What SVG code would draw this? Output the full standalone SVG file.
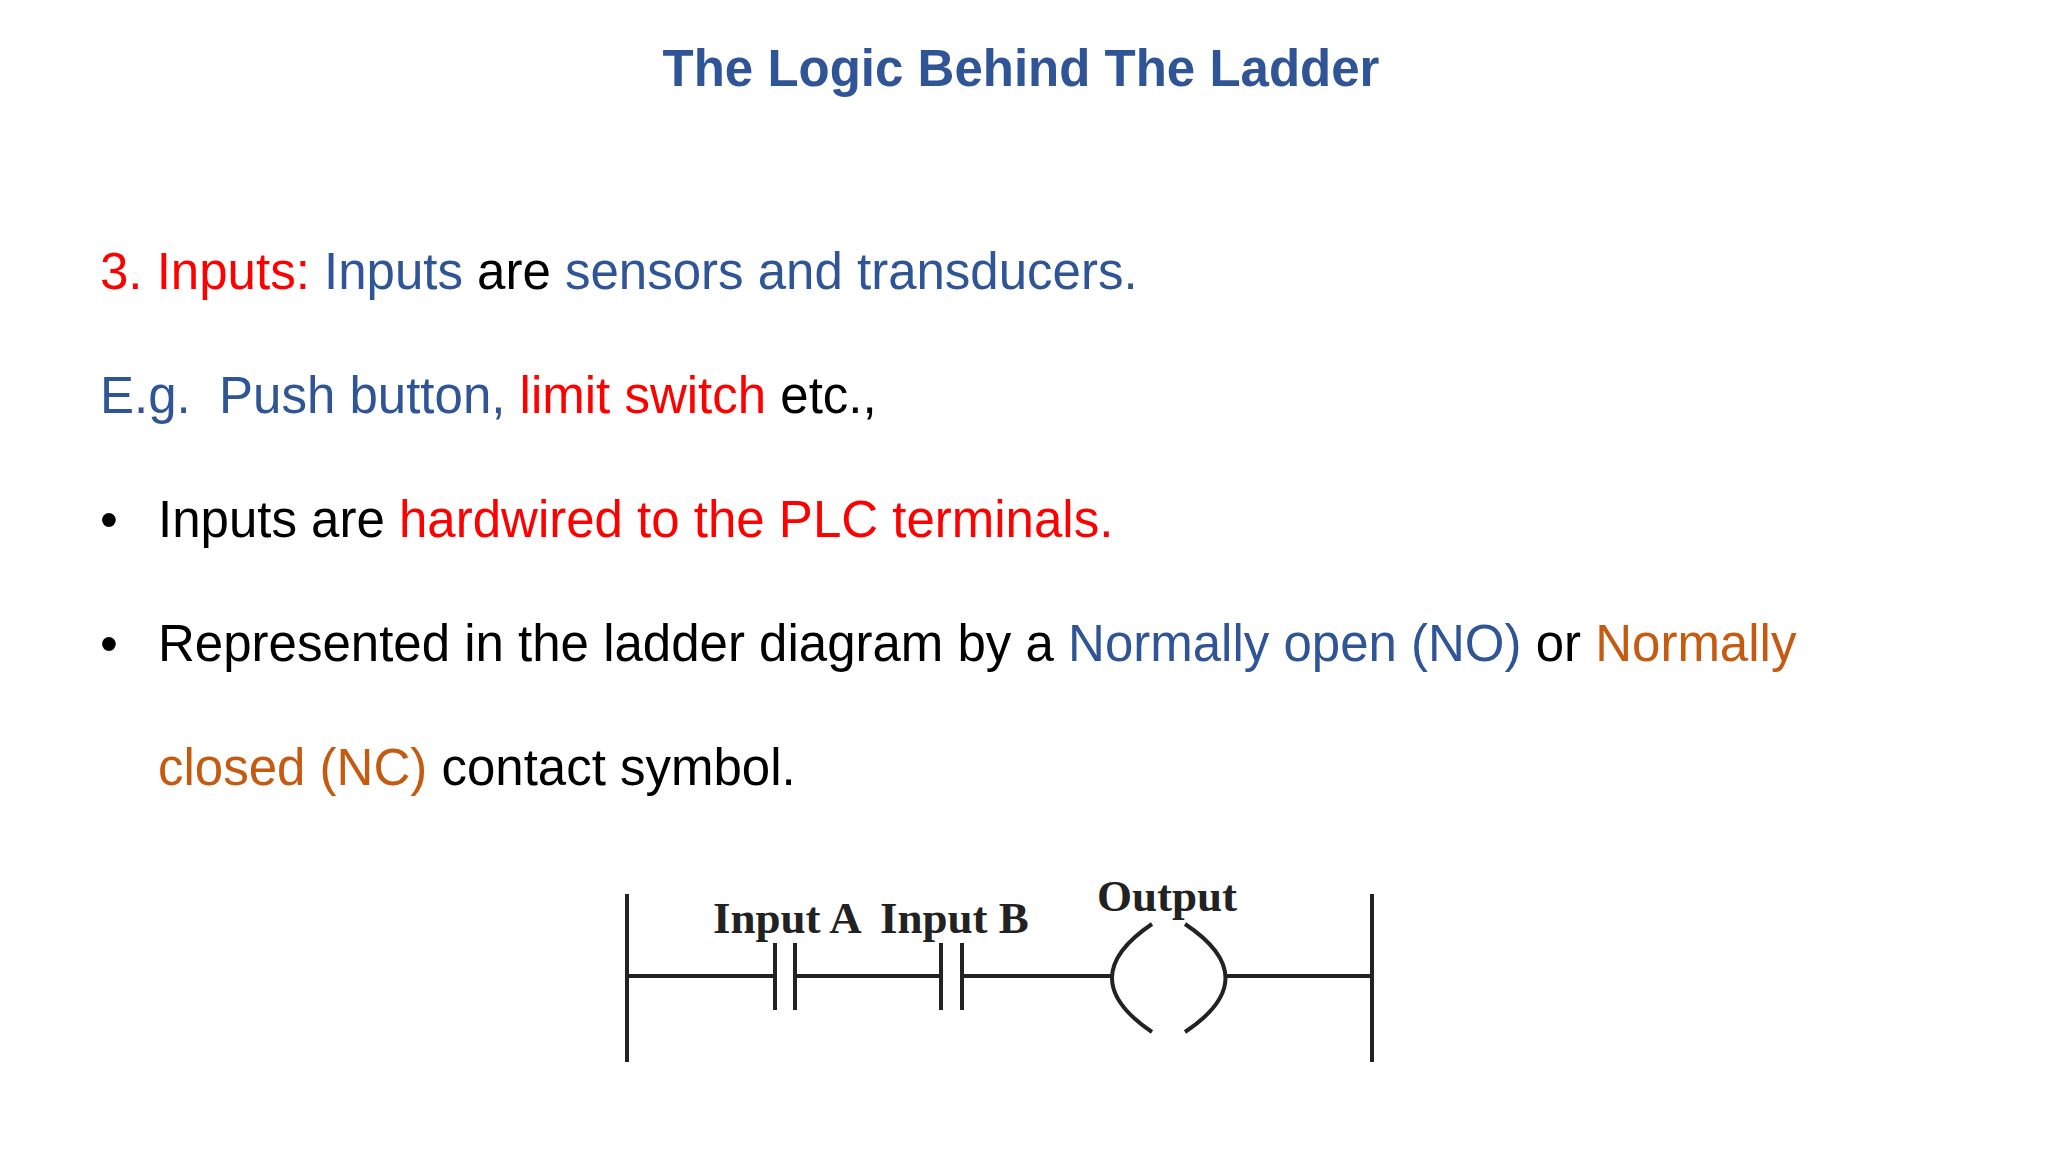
<svg xmlns="http://www.w3.org/2000/svg" width="2048" height="1152" viewBox="0 0 2048 1152">
<style>
.t{font-family:"Liberation Sans",Arial,sans-serif;font-size:51px;fill:#000;white-space:pre}
.b{fill:#2F5597}.r{fill:#FF0000}.o{fill:#C55A11}
.s{font-family:"Liberation Serif","Times New Roman",serif;font-size:45px;font-weight:bold;fill:#222}
.w{stroke:#222;stroke-width:4;fill:none}
</style>
<rect width="2048" height="1152" fill="#fff"/>
<text x="1021" y="86" text-anchor="middle" style="font-family:'Liberation Sans',Arial,sans-serif;font-size:51px;font-weight:bold;fill:#2F5597">The Logic Behind The Ladder</text>
<text class="t" x="100" y="289"><tspan class="r">3. Inputs: </tspan><tspan class="b">Inputs</tspan> are <tspan class="b">sensors and transducers.</tspan></text>
<text class="t" x="100" y="413" xml:space="preserve"><tspan class="b">E.g.  Push button, </tspan><tspan class="r">limit switch</tspan> etc.,</text>
<text class="t" x="100" y="537">•</text>
<text class="t" x="158" y="537">Inputs are <tspan class="r">hardwired to the PLC terminals.</tspan></text>
<text class="t" x="100" y="661">•</text>
<text class="t" x="158" y="661">Represented in the ladder diagram by a <tspan class="b">Normally open (NO)</tspan> or <tspan class="o">Normally</tspan></text>
<text class="t" x="158" y="785"><tspan class="o">closed (NC)</tspan> contact symbol.</text>
<g id="labels">
<text class="s" x="713" y="933">Input A</text>
<text class="s" x="880" y="933">Input B</text>
<text class="s" x="1097" y="911">Output</text>
</g>
<g transform="translate(0,-10)">
<g id="rails">
<line class="w" x1="627" y1="904" x2="627" y2="1072"/>
<line class="w" x1="1372" y1="904" x2="1372" y2="1072"/>
</g>
<g id="contactA"><line class="w" x1="775" y1="953" x2="775" y2="1020"/><line class="w" x1="795" y1="953" x2="795" y2="1020"/></g>
<g id="contactB"><line class="w" x1="941" y1="953" x2="941" y2="1020"/><line class="w" x1="962" y1="953" x2="962" y2="1020"/></g>
<g id="coil"><path class="w" d="M1152 934 Q1072 988 1152 1042"/><path class="w" d="M1185 934 Q1266 988 1185 1042"/></g>
<g id="connectors">
<line class="w" x1="627" y1="986" x2="775" y2="986"/>
<line class="w" x1="795" y1="986" x2="941" y2="986"/>
<line class="w" x1="962" y1="986" x2="1113" y2="986"/>
<line class="w" x1="1224" y1="986" x2="1372" y2="986"/>
</g>
</g>
</svg>
